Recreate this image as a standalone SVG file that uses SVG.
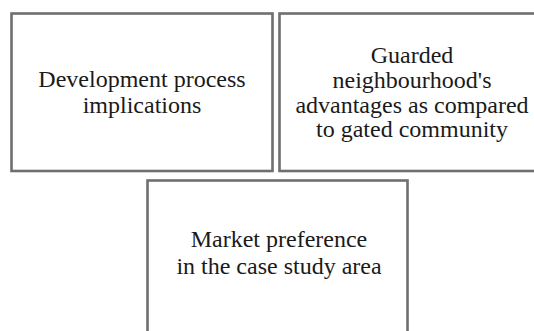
<svg xmlns="http://www.w3.org/2000/svg" width="534" height="331" viewBox="0 0 534 331">
  <style>
    .box { fill: #ffffff; stroke: #6f6f6f; stroke-width: 2.6; }
    .label { font-family: "Liberation Serif", "Times New Roman", serif; font-size: 24px; fill: #1a1a1a; text-anchor: middle; }
  </style>
  <rect width="534" height="331" fill="#ffffff"/>

  <g id="node-development">
    <rect class="box" x="11.5" y="13.5" width="261" height="157.5"/>
    <text class="label" x="142" y="87.3">Development process</text>
    <text class="label" x="142" y="113.3">implications</text>
  </g>

  <g id="node-guarded">
    <rect class="box" x="279.5" y="13.5" width="270" height="157.5"/>
    <text class="label" x="412" y="63.3">Guarded</text>
    <text class="label" x="412" y="88">neighbourhood's</text>
    <text class="label" x="412" y="112.7">advantages as compared</text>
    <text class="label" x="412" y="137.3">to gated community</text>
  </g>

  <g id="node-market">
    <rect class="box" x="147.5" y="180.5" width="260" height="170"/>
    <text class="label" x="279" y="247.3">Market preference</text>
    <text class="label" x="279" y="274">in the case study area</text>
  </g>

  <g id="connectors"></g>
</svg>
